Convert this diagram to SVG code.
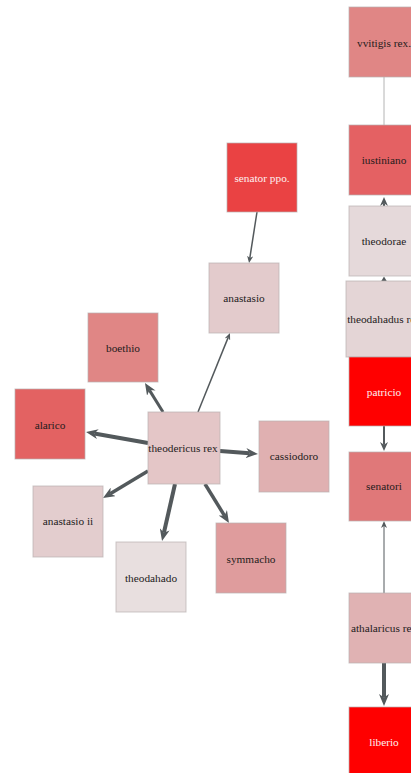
<svg xmlns="http://www.w3.org/2000/svg" width="411" height="773" viewBox="0 0 411 773">
  <style>
    .node rect { stroke: #b8b0b0; stroke-opacity: 0.7; stroke-width: 1; }
    .node text { font-family: "Liberation Serif", "Times New Roman", serif; font-size: 11.3px; text-anchor: middle; fill: #241c1c; }
    .node text.light { fill: #fdf0f0; }
    .edge { stroke: #53595c; fill: none; stroke-linecap: butt; }
  </style>
  <defs>
    <marker id="arrow-big" markerUnits="userSpaceOnUse" markerWidth="12" markerHeight="10" viewBox="0 0 12 10" refX="3.6" refY="5" orient="auto">
      <path d="M0,0 L12,5 L0,10 L3.6,5 Z" fill="#53595c"/>
    </marker>
    <marker id="arrow-mid" markerUnits="userSpaceOnUse" markerWidth="9" markerHeight="8" viewBox="0 0 9 8" refX="2.7" refY="4" orient="auto">
      <path d="M0,0 L9,4 L0,8 L2.7,4 Z" fill="#53595c"/>
    </marker>
    <marker id="arrow-small" markerUnits="userSpaceOnUse" markerWidth="7" markerHeight="6" viewBox="0 0 7 6" refX="2" refY="3" orient="auto">
      <path d="M0,0 L7,3 L0,6 L2,3 Z" fill="#53595c"/>
    </marker>
  </defs>

  <!-- connectors -->
  <g id="edges">
    <line class="edge" x1="257" y1="212" x2="249.8" y2="258.1" stroke-width="1.5" marker-end="url(#arrow-small)"/>
    <line class="edge" x1="198" y1="412" x2="228.1" y2="337.6" stroke-width="1.5" marker-end="url(#arrow-small)"/>
    <line class="edge" x1="163" y1="412" x2="149.4" y2="390.1" stroke-width="3" marker-end="url(#arrow-big)"/>
    <line class="edge" x1="148" y1="443" x2="94.3" y2="433.5" stroke-width="4" marker-end="url(#arrow-big)"/>
    <line class="edge" x1="220" y1="451" x2="249.6" y2="453.3" stroke-width="4" marker-end="url(#arrow-big)"/>
    <line class="edge" x1="148" y1="471" x2="110.2" y2="493.7" stroke-width="3.5" marker-end="url(#arrow-big)"/>
    <line class="edge" x1="175" y1="484" x2="163.9" y2="532.8" stroke-width="4" marker-end="url(#arrow-big)"/>
    <line class="edge" x1="205" y1="484" x2="224.6" y2="515.8" stroke-width="3.5" marker-end="url(#arrow-big)"/>

    <line x1="384" y1="77" x2="384" y2="125" stroke="#b4b4b4" stroke-width="1"/>
    <line class="edge" x1="384" y1="206" x2="384" y2="203.3" stroke-width="2" marker-end="url(#arrow-mid)"/>
    <polygon points="381,281.5 384,276.5 387,281.5" fill="#53595c"/>
    <line class="edge" x1="384" y1="426" x2="384" y2="444.7" stroke-width="2" marker-end="url(#arrow-mid)"/>
    <line class="edge" x1="384" y1="593" x2="384" y2="526" stroke-width="1" stroke="#777c7e" marker-end="url(#arrow-small)"/>
    <line class="edge" x1="384" y1="663" x2="384" y2="697.6" stroke-width="4" marker-end="url(#arrow-big)"/>
  </g>

  <!-- radial cluster -->
  <g id="senator-ppo" class="node"><rect x="227" y="143" width="70" height="69" fill="#ea4243"/><text class="light" x="262" y="181.5">senator ppo.</text></g>
  <g id="anastasio" class="node"><rect x="209" y="263" width="70" height="70" fill="#e3cbcc"/><text x="244" y="302">anastasio</text></g>
  <g id="boethio" class="node"><rect x="88" y="313" width="70" height="69" fill="#e08685"/><text x="123" y="351.5">boethio</text></g>
  <g id="alarico" class="node"><rect x="15" y="389" width="70" height="70" fill="#e36262"/><text x="50" y="429">alarico</text></g>
  <g id="theodericus-rex" class="node"><rect x="148" y="412" width="72" height="72" fill="#e4c6c7"/><text x="183" y="452">theodericus rex</text></g>
  <g id="cassiodoro" class="node"><rect x="259" y="421" width="70" height="71" fill="#e0b0b1"/><text x="294" y="460">cassiodoro</text></g>
  <g id="anastasio-ii" class="node"><rect x="33" y="486" width="70" height="71" fill="#e3cdce"/><text x="68" y="525">anastasio ii</text></g>
  <g id="theodahado" class="node"><rect x="116" y="542" width="70" height="70" fill="#e8dfdf"/><text x="151" y="581.5">theodahado</text></g>
  <g id="symmacho" class="node"><rect x="216" y="523" width="70" height="70" fill="#df9c9d"/><text x="251" y="563">symmacho</text></g>

  <!-- right-hand chain -->
  <g id="vvitigis-rex" class="node"><rect x="349" y="7" width="70" height="70" fill="#e08685"/><text x="384" y="47">vvitigis rex.</text></g>
  <g id="iustiniano" class="node"><rect x="349" y="125" width="70" height="70" fill="#e46163"/><text x="384" y="164">iustiniano</text></g>
  <g id="theodorae" class="node"><rect x="349" y="206" width="70" height="70" fill="#e5d9da" stroke="#9a9a9a"/><text x="384" y="245">theodorae</text></g>
  <g id="theodahadus-rex" class="node"><rect x="346" y="281" width="76" height="76" fill="#e4d5d6"/><text x="384" y="323">theodahadus rex</text></g>
  <g id="patricio" class="node"><rect x="349" y="357" width="70" height="69" fill="#ff0000" stroke="none"/><text class="light" x="384" y="396">patricio</text></g>
  <g id="senatori" class="node"><rect x="349" y="452" width="70" height="69" fill="#e07879"/><text x="384" y="490">senatori</text></g>
  <g id="athalaricus-rex" class="node"><rect x="349" y="593" width="70" height="70" fill="#e0b2b3"/><text x="384" y="632">athalaricus rex</text></g>
  <g id="liberio" class="node"><rect x="349" y="707" width="70" height="70" fill="#ff0000" stroke="none"/><text class="light" x="384" y="746">liberio</text></g>
</svg>
